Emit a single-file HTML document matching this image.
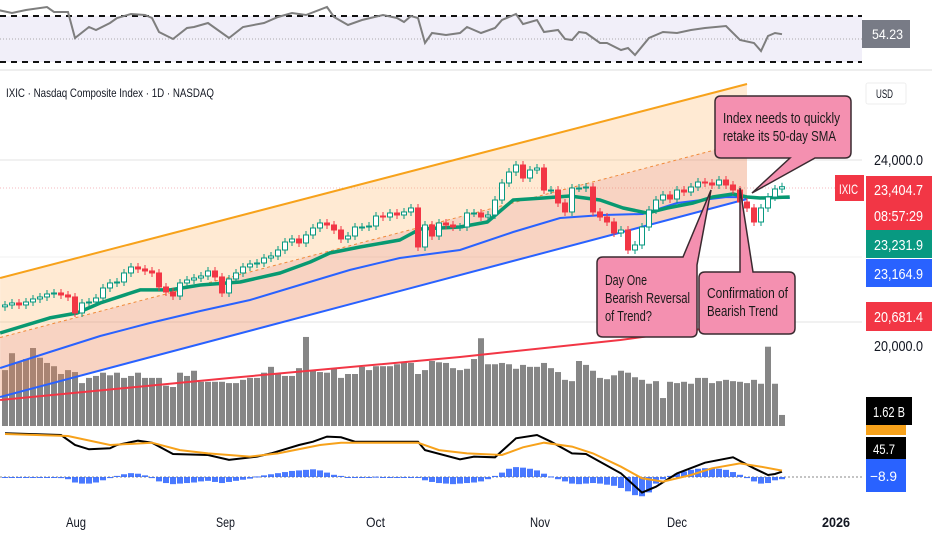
<!DOCTYPE html>
<html><head><meta charset="utf-8">
<style>
html,body{margin:0;padding:0;background:#fff;}
svg{display:block;font-family:"Liberation Sans Narrow","Liberation Sans",sans-serif;}
</style></head>
<body>
<svg id="chart" width="932" height="550" viewBox="0 0 932 550">
  <rect x="0" y="16" width="862" height="46" fill="#f1eff9"/>
  <line x1="0" y1="16" x2="862" y2="16" stroke="#111" stroke-width="2" stroke-dasharray="6,5"/>
  <line x1="0" y1="62" x2="862" y2="62" stroke="#111" stroke-width="2" stroke-dasharray="6,5"/>
  <line x1="0" y1="39" x2="862" y2="39" stroke="#aaa" stroke-width="1" stroke-dasharray="1,2"/>
  <g id="rsi"></g>
  <rect x="862" y="20" width="48" height="28" fill="#787b86"/>
  <text x="872" y="39" fill="#fff" font-size="14" textLength="31" lengthAdjust="spacingAndGlyphs">54.23</text>
  <line x1="0" y1="70" x2="932" y2="70" stroke="#eee" stroke-width="2"/>

  <line x1="0" y1="160" x2="862" y2="160" stroke="#e3e3e3"/>
  <line x1="0" y1="257" x2="862" y2="257" stroke="#f0f0f0"/>
  <line x1="0" y1="322" x2="862" y2="322" stroke="#e3e3e3"/>
  <line x1="0" y1="188" x2="862" y2="188" stroke="#f5b8bf" stroke-dasharray="1,2"/>

  <g id="vol"></g>
  <g id="channel"></g>
  <g id="smas"></g>
  <g id="candles"></g>

  <text x="6" y="97" font-size="12" fill="#131722" textLength="208" lengthAdjust="spacingAndGlyphs">IXIC · Nasdaq Composite Index · 1D · NASDAQ</text>

  <g>
    <path d="M721,96 H845 Q851,96 851,102 V152 Q851,158 845,158 H815 L752,193 L790,158 H721 Q715,158 715,152 V102 Q715,96 721,96 Z" fill="#f490b0" stroke="#3a2a30" stroke-width="1.5"/>
    <text x="723" y="123" font-size="15" fill="#1a1a1a" textLength="117" lengthAdjust="spacingAndGlyphs">Index needs to quickly</text>
    <text x="723" y="141" font-size="15" fill="#1a1a1a" textLength="113" lengthAdjust="spacingAndGlyphs">retake its 50-day SMA</text>
  </g>
  <g>
    <path d="M603,257 H683 L711,190 L697,265 V331 Q697,337 691,337 H603 Q597,337 597,331 V263 Q597,257 603,257 Z" fill="#f490b0" stroke="#3a2a30" stroke-width="1.5"/>
    <text x="605" y="285" font-size="15" fill="#1a1a1a" textLength="42" lengthAdjust="spacingAndGlyphs">Day One</text>
    <text x="605" y="303" font-size="15" fill="#1a1a1a" textLength="85" lengthAdjust="spacingAndGlyphs">Bearish Reversal</text>
    <text x="605" y="321" font-size="15" fill="#1a1a1a" textLength="47" lengthAdjust="spacingAndGlyphs">of Trend?</text>
  </g>
  <g>
    <path d="M705,272 H740 L740,188 L753,272 H789 Q795,272 795,278 V328 Q795,334 789,334 H705 Q699,334 699,328 V278 Q699,272 705,272 Z" fill="#f490b0" stroke="#3a2a30" stroke-width="1.5"/>
    <text x="707" y="298" font-size="15" fill="#1a1a1a" textLength="81" lengthAdjust="spacingAndGlyphs">Confirmation of</text>
    <text x="707" y="316" font-size="15" fill="#1a1a1a" textLength="71" lengthAdjust="spacingAndGlyphs">Bearish Trend</text>
  </g>

  <line x1="0" y1="477" x2="862" y2="477" stroke="#888" stroke-dasharray="2,2"/>
  <g id="macd"></g>

  <rect x="866" y="83" width="40" height="21" fill="#fff" stroke="#eee" rx="2"/>
  <text x="876" y="98" font-size="12" fill="#131722" textLength="17" lengthAdjust="spacingAndGlyphs">USD</text>
  <text x="874" y="165" font-size="15" fill="#131722" textLength="49" lengthAdjust="spacingAndGlyphs">24,000.0</text>
  <text x="874" y="351" font-size="15" fill="#131722" textLength="49" lengthAdjust="spacingAndGlyphs">20,000.0</text>
  <rect x="835" y="175" width="29" height="26" fill="#f23645"/>
  <text x="839" y="194" font-size="14" fill="#fff" textLength="19" lengthAdjust="spacingAndGlyphs">IXIC</text>
  <rect x="866" y="176" width="66" height="54" fill="#f23645"/>
  <text x="874" y="195" font-size="15" fill="#fff" textLength="49" lengthAdjust="spacingAndGlyphs">23,404.7</text>
  <text x="874" y="221" font-size="15" fill="#fff" textLength="49" lengthAdjust="spacingAndGlyphs">08:57:29</text>
  <rect x="866" y="230" width="66" height="28" fill="#089981"/>
  <text x="874" y="250" font-size="15" fill="#fff" textLength="49" lengthAdjust="spacingAndGlyphs">23,231.9</text>
  <rect x="866" y="259" width="66" height="28" fill="#2962ff"/>
  <text x="874" y="279" font-size="15" fill="#fff" textLength="49" lengthAdjust="spacingAndGlyphs">23,164.9</text>
  <rect x="866" y="302" width="66" height="29" fill="#f23645"/>
  <text x="874" y="322" font-size="15" fill="#fff" textLength="49" lengthAdjust="spacingAndGlyphs">20,681.4</text>
  <rect x="866" y="425" width="40" height="10" fill="#f7a21b"/>
  <rect x="866" y="397" width="46" height="28" fill="#000"/>
  <text x="873" y="417" font-size="15" fill="#fff" textLength="32" lengthAdjust="spacingAndGlyphs">1.62 B</text>
  <rect x="866" y="437" width="40" height="22" fill="#000"/>
  <text x="873" y="454" font-size="14" fill="#fff" textLength="22" lengthAdjust="spacingAndGlyphs">45.7</text>
  <rect x="866" y="459" width="40" height="33" fill="#2962ff"/>
  <text x="870" y="481" font-size="14" fill="#fff" textLength="27" lengthAdjust="spacingAndGlyphs">−8.9</text>

  <g font-size="14" fill="#131722">
    <text x="66" y="527" textLength="20" lengthAdjust="spacingAndGlyphs">Aug</text>
    <text x="216" y="527" textLength="19" lengthAdjust="spacingAndGlyphs">Sep</text>
    <text x="366" y="527" textLength="19" lengthAdjust="spacingAndGlyphs">Oct</text>
    <text x="530" y="527" textLength="20" lengthAdjust="spacingAndGlyphs">Nov</text>
    <text x="667" y="527" textLength="20" lengthAdjust="spacingAndGlyphs">Dec</text>
    <text x="822" y="527" font-weight="bold" textLength="28" lengthAdjust="spacingAndGlyphs">2026</text>
  </g>
</svg>
<script>
const closes = [20861,20904,20861,20925,20990,21033,21097,21119,21076,21033,20689,20904,20925,21011,21226,21334,21355,21549,21678,21635,21592,21549,21248,21140,21054,21334,21398,21441,21484,21592,21463,21119,21420,21549,21678,21742,21764,21871,21914,22043,22215,22280,22194,22366,22516,22624,22581,22473,22280,22344,22538,22538,22559,22774,22753,22839,22796,22861,22947,22108,22581,22344,22624,22581,22538,22538,22839,22839,22753,22796,23118,23484,23720,23871,23591,23763,23806,23333,23333,23054,22861,23376,23376,23398,22861,22753,22645,22409,22473,22043,22151,22538,22904,23118,23226,23140,23333,23290,23398,23505,23484,23441,23548,23441,23333,23075,22947,22645,22947,23183,23355,23404];
const volumesB = [8.6,11.2,9.8,10.3,12,10.5,9.7,9.2,8,8.6,8.3,6.6,7.4,7.7,8.2,7.8,8.2,7.4,7.7,8.2,7.4,7.4,7.4,6.2,6,8.2,7.7,8.5,6.8,6.8,6.8,6.8,6.6,6.6,7.1,7.4,7.4,8.2,9.1,8,7.7,7.7,8.9,13.7,8.5,8.3,8.2,8.8,7.4,8,8,9.1,8.6,9.2,9.2,9.2,9.5,9.8,9.7,8,8.6,10,9.8,9.7,8.9,8.6,8.8,10.3,13.5,9.5,9.5,9.7,9.5,8.8,9.4,9.1,9.1,9.7,8.9,8.3,7.1,6.9,10,9.4,8.5,7.4,7.2,7.8,8.5,8.2,7.5,7.1,6.5,6.9,4.3,6.8,6.6,6.8,6.5,7.4,7.4,6.6,6.9,7.1,6.9,6.8,6.6,7.1,6.5,12.2,6.5,1.7];
const sma20Idx = [-0.7,6.4,10.3,13.6,19.3,23.6,27.9,33.6,39.3,43.6,46.4,50.7,56.4,59.3,65,68.9,72.6,76.9,80.7,85,88.3,91.7,94.6,98.3,101.1,104,106,107.9,112.1];
const sma20Val = [20259,20582,20689,20904,21184,21184,21291,21355,21549,21786,21979,22108,22258,22495,22538,22645,23118,23161,23204,23118,22947,22839,22947,23054,23183,23247,23183,23161,23183];
const sma50Idx = [-0.7,6.4,13.6,20.7,27.9,35,42.1,49.3,56.4,65,72.6,79.3,85.4,91.1,96,103.1,112.1];
const sma50Val = [19506,19850,20194,20474,20732,20968,21291,21614,21872,22043,22430,22732,22796,22818,23054,23183,23161];
const sma200Idx = [-0.7,32.1,65,87.9,112.1];
const sma200Val = [18818,19291,19743,20108,20603];
const channelIdx = [-0.7,106];
const channelUpper = [21441,25613];
const channelLower = [18882,23140];
const rsiIdx = [-1,1,3,6,7,9,10,12,13,15,16,18,20,21,22,24,26,27,29,32,34,37,39,41,43,46,47,49,51,54,56,57,58,59,60,61,63,65,66,68,70,71,73,74,76,77,79,80,81,82,83,85,86,88,89,90,92,94,96,98,100,103,105,107,108,109,110,111];
const rsiVal = [75.2,72.6,75.2,77.8,73.5,73.5,50.9,60.4,57.8,63.9,68.3,71.7,70.9,68.3,56.1,50,59.6,60.4,63.9,50.9,60.4,63.9,69.1,72.6,70.9,77.8,69.1,62.2,66.5,70.9,68.3,64.8,70,68.3,46.5,55.2,53.5,55.2,60.4,55.2,59.6,66.5,71.7,63,66.5,56.1,57.8,50,49.1,56.1,55.2,46.5,46.5,40.4,42.2,36.1,50.9,56.1,55.2,57.8,59.6,61.3,49.1,46.5,39.6,52.6,55.2,54.2];
const macdIdx = [0,8,10,12,15,16,19,21,24,29,32,36,38,42,44,46,48,50,54,59,60,65,67,70,73,76,78,81,83,88,91,93,96,100,104,107,109,110,111];
const macdVal = [397,382,291,252,261,291,330,312,209,200,155,185,215,291,321,367,361,321,321,321,245,161,185,179,352,382,321,215,209,33,-142,-88,33,130,179,79,18,27,48];
const signalIdx = [0,9,15,21,25,29,35,39,45,48,59,62,66,71,74,77,81,84,88,91,94,98,101,105,108,111];
const signalVal = [391,373,291,312,245,215,185,215,291,312,312,245,215,200,270,312,276,215,94,-12,-42,18,79,124,94,58];
const histVal = [-3,-3,-3,-3,-3,-3,-3,-3,-10,-20,-50,-60,-60,-50,-30,-10,10,25,35,30,15,-10,-40,-55,-65,-60,-55,-50,-40,-35,-45,-55,-45,-35,-25,-15,5,15,25,35,45,55,60,65,70,60,40,20,10,0,0,-3,0,3,0,-3,0,-5,-3,-5,-30,-45,-55,-60,-65,-60,-55,-50,-40,-20,10,40,75,90,85,75,60,30,5,-20,-40,-60,-65,-60,-55,-60,-70,-80,-100,-130,-165,-175,-140,-60,-20,10,30,50,65,75,80,80,75,65,45,20,-10,-40,-60,-55,-30,-20];

const NS='http://www.w3.org/2000/svg';
const xOf = i => 5 + 7*i;
const yP = p => 159 + (24000 - p)*0.0465;
const yV = v => 426 - v*6.5;
const yR = v => 16 + (70 - v)*46/40;
const yM = v => 477 - v*0.11;
function mk(tag, attrs, parent){const e=document.createElementNS(NS,tag);for(const k in attrs)e.setAttribute(k,attrs[k]);parent.appendChild(e);return e;}
function pts(idx, vals, yf){return idx.map((i,k)=>xOf(i).toFixed(1)+','+yf(vals[k]).toFixed(1)).join(' ');}

const gv=document.getElementById('vol');
volumesB.forEach((v,i)=>{
  const r=mk('rect',{x:xOf(i)-3,y:yV(v),width:6,height:426-yV(v),fill:'#868686'},gv);
  
  
});
const gc=document.getElementById('channel');
const cx0=xOf(channelIdx[0]), cx1=xOf(channelIdx[1]);
const u0=yP(channelUpper[0]),u1=yP(channelUpper[1]),l0=yP(channelLower[0]),l1=yP(channelLower[1]);
const m0=(u0+l0)/2,m1=(u1+l1)/2;
const up=mk('polygon',{points:`${cx0},${u0} ${cx1},${u1} ${cx1},${m1} ${cx0},${m0}`,fill:'rgba(255,170,80,0.25)'},gc);


const lo=mk('polygon',{points:`${cx0},${m0} ${cx1},${m1} ${cx1},${l1} ${cx0},${l0}`,fill:'rgba(235,130,80,0.35)'},gc);


const ul=mk('line',{x1:cx0,y1:u0,x2:cx1,y2:u1,stroke:'#f7a21b','stroke-width':2},gc);


const ml=mk('line',{x1:cx0,y1:m0,x2:cx1,y2:m1,stroke:'#f08a3a','stroke-width':1,'stroke-dasharray':'3,3'},gc);


const ll=mk('line',{x1:cx0,y1:l0,x2:cx1,y2:l1,stroke:'#2962ff','stroke-width':2},gc);


const gs=document.getElementById('smas');
const s200=mk('polyline',{points:pts(sma200Idx,sma200Val,yP),fill:'none',stroke:'#f23645','stroke-width':2},gs);


const s50=mk('polyline',{points:pts(sma50Idx,sma50Val,yP),fill:'none',stroke:'#2962ff','stroke-width':2},gs);


const s20=mk('polyline',{points:pts(sma20Idx,sma20Val,yP),fill:'none',stroke:'#089971','stroke-width':3.5,'stroke-linejoin':'round'},gs);


const gk=document.getElementById('candles');
closes.forEach((c,i)=>{
  const o = i>0 ? closes[i-1] : c-40;
  const upc = c>=o;
  const col = upc ? '#089981' : '#f23645';
  const top=yP(Math.max(o,c)), bot=yP(Math.min(o,c));
  const g=mk('g',{},gk);
  
  
  mk('line',{x1:xOf(i),x2:xOf(i),y1:top-4,y2:bot+4,stroke:col,'stroke-width':1},g);
  mk('rect',{x:xOf(i)-2.5,y:top,width:5,height:Math.max(1,bot-top),fill:upc?'#fff':col,stroke:col,'stroke-width':1},g);
});
const gr=document.getElementById('rsi');
const rl=mk('polyline',{points:pts(rsiIdx,rsiVal,yR),fill:'none',stroke:'#7e7e7e','stroke-width':2},gr);


const gm=document.getElementById('macd');
histVal.forEach((v,i)=>{
  const y=yM(v);
  const b=mk('rect',{x:xOf(i)-3,y:Math.min(y,477),width:6,height:Math.max(1,Math.abs(y-477)),fill:'#2962ff',opacity:0.85},gm);
  
  
});
const ml2=mk('polyline',{points:pts(macdIdx,macdVal,yM),fill:'none',stroke:'#000','stroke-width':2},gm);


const sl=mk('polyline',{points:pts(signalIdx,signalVal,yM),fill:'none',stroke:'#f7a21b','stroke-width':2},gm);


</script>
</body></html>
